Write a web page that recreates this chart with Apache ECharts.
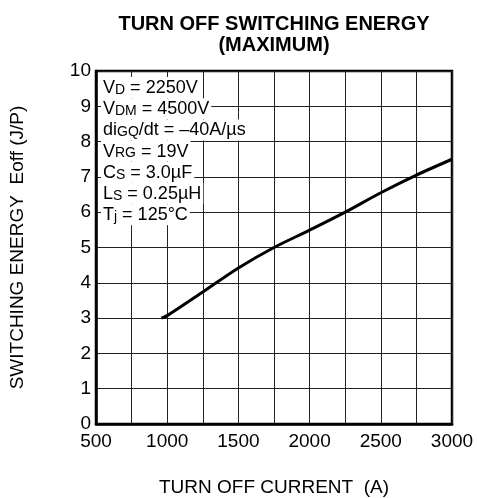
<!DOCTYPE html>
<html>
<head>
<meta charset="utf-8">
<script src="https://cdn.jsdelivr.net/npm/echarts@6/dist/echarts.min.js"></script>
<style>
  html, body { margin: 0; padding: 0; background: #fff; }
  #chart { width: 477px; height: 498px; }
</style>
</head>
<body>
<div id="chart"></div>
<script>
// curve
const currentA = [960, 1000, 1250, 1500, 1750, 2000, 2250, 2500, 2750, 3000]
const energyJ = [3.0, 3.07, 3.74, 4.42, 5.0, 5.49, 6.0, 6.55, 7.05, 7.5]

const xTicks = [500, 1000, 1500, 2000, 2500, 3000]

// test conditions in the upper-left box
const conditions = [
  '{a|V}{s|D}{a| = 2250V}',
  '{a|V}{s|DM}{a| = 4500V}',
  '{a|di}{s|GQ}{a|/dt = –40A/µs}',
  '{a|V}{s|RG}{a| = 19V}',
  '{a|C}{s|S}{a| = 3.0µF}',
  '{a|L}{s|S}{a| = 0.25µH}',
  '{a|T}{s|j}{a| = 125°C}'
]

const font = 'Liberation Sans, Arial, Helvetica, sans-serif'
const chart = echarts.init(document.getElementById('chart'))

const condGraphics = conditions.map((t, i) => ({
  type: 'text',
  left: 101,
  top: 77 + i * 21.2,
  z: 100,
  style: {
    text: t,
    backgroundColor: '#fff',
    padding: [1, 2, 1, 2],
    rich: {
      a: { fontFamily: font, fontSize: 18, lineHeight: 19, fill: '#000', verticalAlign: 'bottom' },
      s: { fontFamily: font, fontSize: 14, lineHeight: 19, fill: '#000', verticalAlign: 'bottom' }
    }
  }
}))

chart.setOption({
  animation: false,
  backgroundColor: '#fff',
  title: {
    text: 'TURN OFF SWITCHING ENERGY\n(MAXIMUM)',
    left: 269,
    top: 9,
    textAlign: 'center',
    textStyle: { fontFamily: font, fontSize: 20, fontWeight: 'bold', color: '#000', lineHeight: 21 }
  },
  grid: {
    left: 96, right: 25, top: 71, bottom: 74,
    outerBoundsMode: 'none',
    show: true, borderColor: '#000', borderWidth: 2.5
  },
  xAxis: {
    type: 'value',
    min: 500, max: 3000, interval: 250,
    name: 'TURN OFF CURRENT  (A)',
    nameLocation: 'middle',
    nameGap: 54,
    nameTextStyle: { fontFamily: font, fontSize: 19, color: '#000' },
    axisLine: { show: true, lineStyle: { color: '#000', width: 2.5 } },
    axisTick: { show: false },
    axisLabel: {
      fontFamily: font, fontSize: 19, color: '#000', margin: 8,
      formatter: v => (xTicks.includes(v) ? String(v) : '')
    },
    splitLine: { show: true, lineStyle: { color: '#222', width: 1 } }
  },
  yAxis: {
    type: 'value',
    min: 0, max: 10, interval: 1,
    name: 'SWITCHING ENERGY  Eoff (J/P)',
    nameLocation: 'middle',
    nameGap: 69,
    nameTextStyle: { fontFamily: font, fontSize: 19, color: '#000' },
    axisLine: { show: true, lineStyle: { color: '#000', width: 2.5 } },
    axisTick: { show: false },
    axisLabel: { fontFamily: font, fontSize: 19, color: '#000', margin: 5 },
    splitLine: { show: true, lineStyle: { color: '#222', width: 1 } }
  },
  graphic: condGraphics,
  series: [{
    type: 'line',
    data: currentA.map((x, i) => [x, energyJ[i]]),
    smooth: 0.3,
    symbol: 'none',
    lineStyle: { color: '#000', width: 3 },
    z: 5
  }]
})
</script>
</body>
</html>
